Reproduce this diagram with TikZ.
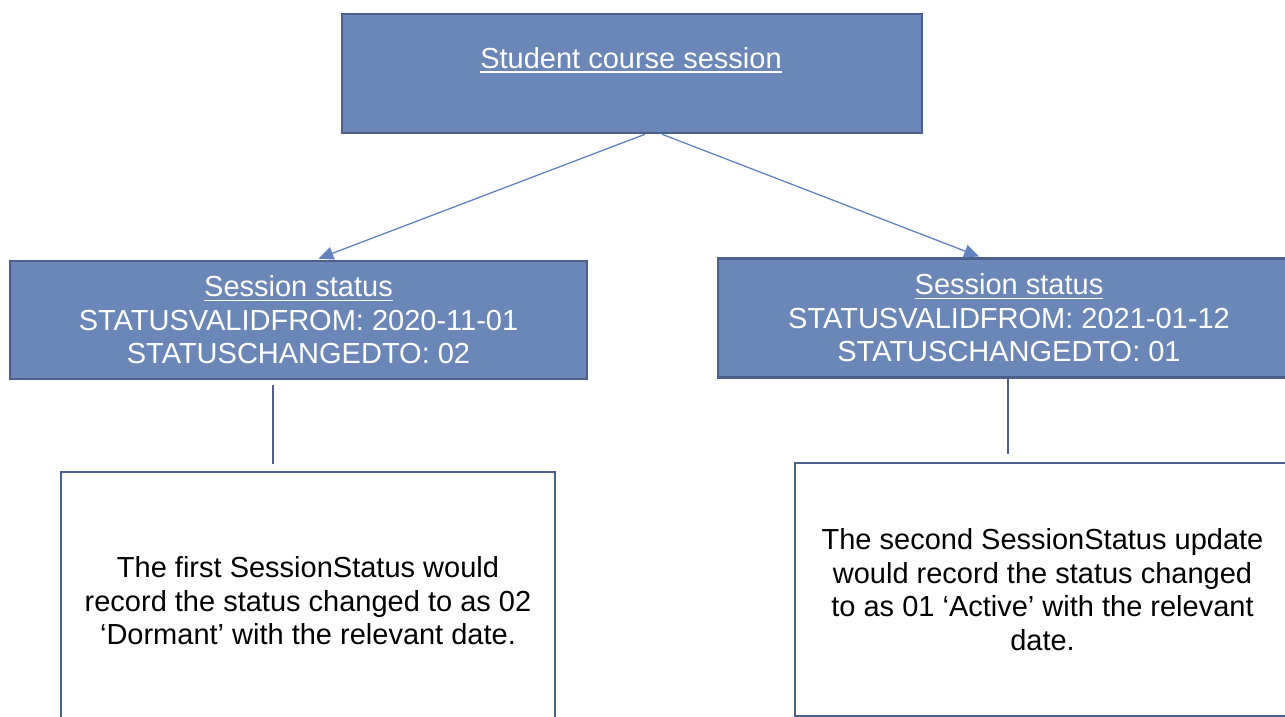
\documentclass[tikz,border=0pt]{standalone}
\usepackage{fontspec}
\setmainfont{Liberation Sans}
\usepackage{xcolor}
\usepackage{tikz}
\usetikzlibrary{positioning, arrows.meta}

\definecolor{boxfill}{RGB}{106,135,184}
\definecolor{boxline}{RGB}{74,96,138}
\definecolor{arrowblue}{RGB}{98,130,192}

\newcommand{\ultext}[1]{\setbox0\hbox{#1}\rlap{\rule[-4.5pt]{\wd0}{1.8pt}}\box0}

\tikzset{
    bluebox/.style={draw=boxline, line width=2.5pt, fill=boxfill, text=white, align=center, inner sep=0pt},
    notebox/.style={draw=boxline, line width=2pt, fill=white, text=black, align=center, inner sep=0pt},
    link/.style={draw=boxline, line width=2pt},
}

\begin{document}
\begin{tikzpicture}[x=1pt, y=-1pt, >={Triangle[length=15pt,width=13pt]}, font=\fontsize{29pt}{33.5pt}\selectfont]
        \useasboundingbox (0,0) rectangle (1285,717);
        \clip (0,0) rectangle (1285,717);

        % Nodes
        \node (course) [bluebox, minimum width=580pt, minimum height=119pt] at (632,73.5) {};
        \node (coursename) [text=white, anchor=base, inner sep=0pt] at (631,68) {\ultext{Student course session}};
        \node (status1) [bluebox, minimum width=577pt, minimum height=118pt] at (298.5,320) {\ultext{Session status}\\STATUSVALIDFROM: 2020-11-01\\STATUSCHANGEDTO: 02};
        \node (status2) [bluebox, minimum width=582pt, minimum height=119pt] at (1009,318) {\ultext{Session status}\\STATUSVALIDFROM: 2021-01-12\\STATUSCHANGEDTO: 01};
        \node (note1) [notebox, minimum width=494pt, minimum height=258pt] at (308,601) {The first SessionStatus would\\record the status changed to as 02\\‘Dormant’ with the relevant date.};
        \node (note2) [notebox, minimum width=495pt, minimum height=253pt] at (1042.5,589.5) {The second SessionStatus update\\would record the status changed\\to as 01 ‘Active’ with the relevant\\date.};

        \coordinate (drop1) at ([xshift=-26pt]status1.south);
        \coordinate (drop2) at ([xshift=-1pt]status2.south);

        % Arrows
        \draw[->, draw=arrowblue, fill=arrowblue, line width=1.3pt, shorten >=3pt] ([xshift=13pt]course.south) -- ([xshift=17pt]status1.north);
        \draw[->, draw=arrowblue, fill=arrowblue, line width=1.3pt, shorten >=2pt] ([xshift=30pt]course.south) -- ([xshift=-28pt]status2.north);
        \draw[link, shorten <=5pt, shorten >=7pt] (drop1) -- (drop1 |- note1.north);
        \draw[link, shorten >=8pt] (drop2) -- (drop2 |- note2.north);

    \end{tikzpicture}
\end{document}
